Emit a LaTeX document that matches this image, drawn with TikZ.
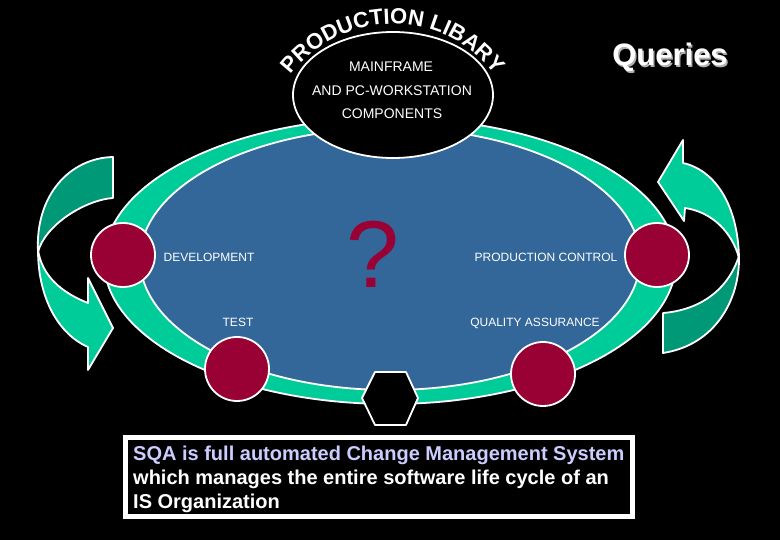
\documentclass[tikz,border=0pt]{standalone}
\usepackage{fontspec}
\setmainfont{Liberation Sans}
\usetikzlibrary{decorations.text}
\definecolor{ringgreen}{HTML}{00CC99}
\definecolor{darkgreen}{HTML}{009977}
\definecolor{ovalblue}{HTML}{336699}
\definecolor{dotred}{HTML}{990033}
\definecolor{lavender}{HTML}{CCCCFF}
\newcommand{\arcfont}{\fontsize{22}{22}\selectfont\bfseries}
\begin{document}
\begin{tikzpicture}[x=1pt,y=-1pt,
  outl/.style={draw=white,line width=1.8pt,line join=round},
  reddot/.style={circle,fill=dotred,draw=white,line width=1.8pt,minimum size=64pt,inner sep=0pt},
  lbl/.style={text=white,font=\fontsize{12}{14}\selectfont,inner sep=0pt,anchor=base},
  toplbl/.style={text=white,font=\fontsize{14}{16}\selectfont,inner sep=0pt,anchor=base},
  boxtxt/.style={font=\fontsize{20}{24}\selectfont\bfseries,inner sep=0pt,anchor=base west},
  qfont/.style={font=\fontsize{31}{31}\selectfont\bfseries,inner sep=0pt,anchor=base}]
\fill[black] (0,0) rectangle (780,540);
\useasboundingbox (0,0) rectangle (780,540);
% left cycle arrow
\path[outl,fill=darkgreen] (113,157) -- (113,198) .. controls (85,200) and (45,225) .. (38,252)
  .. controls (35,195) and (70,158) .. (113,157) -- cycle;
\path[outl,fill=ringgreen] (38,250) .. controls (38,300) and (60,335) .. (88,347) -- (88,370)
  -- (113,328) -- (88,278) -- (88,303) .. controls (60,292) and (42,275) .. (38,250) -- cycle;
% right cycle arrow
\path[outl,fill=darkgreen] (739,256) .. controls (740,300) and (715,345) .. (663,353) -- (663,313)
  .. controls (700,310) and (728,290) .. (739,256) -- cycle;
\path[outl,fill=ringgreen] (683,140) -- (683,163) .. controls (715,170) and (738,205) .. (739,258)
  .. controls (732,232) and (712,212) .. (685,208) -- (684,221) -- (658,182) -- cycle;
% main oval
\draw[outl,fill=ringgreen] (390,261) ellipse[x radius=286,y radius=143];
\draw[outl,fill=ovalblue] (390,259) ellipse[x radius=250,y radius=131];
% top black oval
\draw[outl,fill=black] (393,95) ellipse[x radius=100,y radius=63];
\path[decorate,decoration={text along path,text align=center,text color=white,
  text={|\arcfont|PRODUCTION LIBARY}}]
  ([shift={(200:128)}]393,152) arc[start angle=200,end angle=340,radius=128];
\node[toplbl] (mf) at (391,72) {MAINFRAME};
\node[toplbl] (pc) at (392,96) {AND PC-WORKSTATION};
\node[toplbl] (comp) at (392,119) {COMPONENTS};
% red dots
\node[reddot] (dev) at (123,255) {};
\node[reddot] (prod) at (657,255) {};
\node[reddot] (test) at (237,369) {};
\node[reddot] (qa) at (543,374) {};
% hexagon
\draw[outl,fill=black] (362,398) -- (375,372) -- (406,372) -- (418,398) -- (406,425) -- (375,425) -- cycle;
% labels
\node[lbl] (tdev) at (209,262) {DEVELOPMENT};
\node[lbl] (ttest) at (238,327) {TEST};
\node[lbl] (tprod) at (546,262) {PRODUCTION CONTROL};
\node[lbl] (tqa) at (535,327) {QUALITY ASSURANCE};
\node[text=dotred,font=\fontsize{95}{95}\selectfont,inner sep=0pt,anchor=base] (qm) at (373,288) {?};
% Queries
\node[qfont,text=gray!60] (qsh) at (671.5,67.5) {Queries};
\node[qfont,text=white] (queries) at (670,66) {Queries};
% bottom box
\node[draw=white,line width=5pt,fill=black,minimum width=507pt,minimum height=79pt,inner sep=0pt] (box) at (379,477) {};
\node[boxtxt,text=lavender] (l1) at (133,460) {SQA is full automated Change Management System};
\node[boxtxt,text=white] (l2) at (133,484) {which manages the entire software life cycle of an};
\node[boxtxt,text=white] (l3) at (133,508) {IS Organization};
\end{tikzpicture}
\end{document}
